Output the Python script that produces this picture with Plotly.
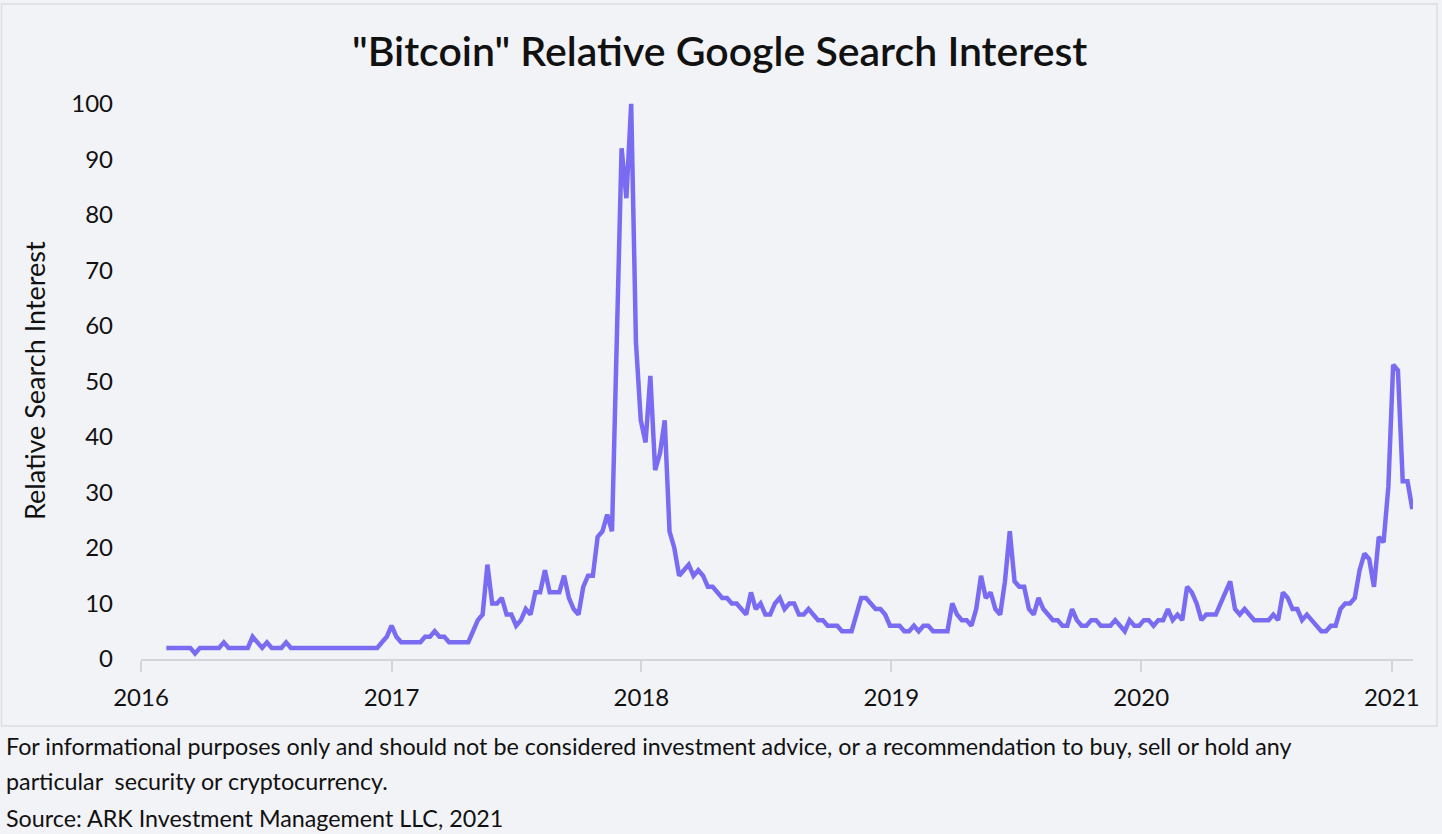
import pandas as pd
import plotly.graph_objects as go

# Weekly "bitcoin" search interest
week_start = "2016-02-07"
interest = [
    2, 2, 2, 2, 2, 2, 1, 2, 2, 2, 2, 2, 3, 2, 2, 2, 2, 2, 4, 3,
    2, 3, 2, 2, 2, 3, 2, 2, 2, 2, 2, 2, 2, 2, 2, 2, 2, 2, 2, 2,
    2, 2, 2, 2, 2, 3, 4, 6, 4, 3, 3, 3, 3, 3, 4, 4, 5, 4, 4, 3,
    3, 3, 3, 3, 5, 7, 8, 17, 10, 10, 11, 8, 8, 6, 7, 9, 8, 12, 12, 16,
    12, 12, 12, 15, 11, 9, 8, 13, 15, 15, 22, 23, 26, 23, 56, 92, 83, 100, 57, 43,
    39, 51, 34, 37, 43, 23, 20, 15, 16, 17, 15, 16, 15, 13, 13, 12, 11, 11, 10, 10,
    9, 8, 12, 9, 10, 8, 8, 10, 11, 9, 10, 10, 8, 8, 9, 8, 7, 7, 6, 6,
    6, 5, 5, 5, 8, 11, 11, 10, 9, 9, 8, 6, 6, 6, 5, 5, 6, 5, 6, 6,
    5, 5, 5, 5, 10, 8, 7, 7, 6, 9, 15, 11, 12, 9, 8, 14, 23, 14, 13, 13,
    9, 8, 11, 9, 8, 7, 7, 6, 6, 9, 7, 6, 6, 7, 7, 6, 6, 6, 7, 6,
    5, 7, 6, 6, 7, 7, 6, 7, 7, 9, 7, 8, 7, 13, 12, 10, 7, 8, 8, 8,
    10, 12, 14, 9, 8, 9, 8, 7, 7, 7, 7, 8, 7, 12, 11, 9, 9, 7, 8, 7,
    6, 5, 5, 6, 6, 9, 10, 10, 11, 16, 19, 18, 13, 22, 21, 31, 53, 52, 32, 32,
    27,
]
weeks = pd.date_range(week_start, periods=len(interest), freq="W-SUN")

year_ticks = ["2016-01-01", "2017-01-01", "2018-01-01", "2019-01-01", "2020-01-01", "2021-01-01"]
year_labels = ["2016", "2017", "2018", "2019", "2020", "2021"]
y_ticks = [0, 10, 20, 30, 40, 50, 60, 70, 80, 90, 100]

title = '"Bitcoin" Relative Google Search Interest'
y_title = "Relative Search Interest"
notes = [
    "For informational purposes only and should not be considered investment advice, or a recommendation to buy, sell or hold any",
    "particular  security or cryptocurrency.",
    "Source: ARK Investment Management LLC, 2021",
]

FONT = "Lato"
BG = "#f2f3f7"
W, H = 1442, 834
L, R, T, B = 141, 29, 101, 175
PW, PH = W - L - R, H - T - B
Y0 = H - B  # pixel row of value 0


def px(x):
    return (x - L) / PW


def py(y):
    return (Y0 - y) / PH


fig = go.Figure()
fig.add_trace(go.Scatter(
    x=weeks, y=interest,
    mode="lines",
    line=dict(color="#7a6cf2", width=4.5),
    hoverinfo="skip",
))

fig.update_layout(
    width=W, height=H,
    margin=dict(l=L, r=R, t=T, b=B),
    paper_bgcolor=BG,
    plot_bgcolor=BG,
    showlegend=False,
    font=dict(family=FONT, color="#111111"),
)
fig.update_xaxes(
    range=["2016-01-01", "2021-02-01"],
    tickvals=year_ticks, ticktext=year_labels,
    showgrid=False, zeroline=False,
    showline=True, linecolor="#d3d5da", linewidth=1.5,
    ticks="outside", ticklen=11, tickcolor="#d3d5da", tickwidth=1.5,
    ticklabelstandoff=5,
    tickfont=dict(size=24, family=FONT, color="#111111"),
)
fig.update_yaxes(
    range=[0, 100.5],
    tickvals=y_ticks,
    showgrid=False, zeroline=False, showline=False,
    ticks="", ticklabelstandoff=27,
    tickfont=dict(size=24, family=FONT, color="#111111"),
)

# panel border
fig.add_shape(type="rect", xref="paper", yref="paper",
              x0=px(1.5), x1=px(1437), y0=py(726), y1=py(4),
              line=dict(color="#dcdde2", width=1.5), layer="below")

fig.add_annotation(text=title, xref="paper", yref="paper",
                   x=px(719), y=py(50), showarrow=False,
                   font=dict(size=41, family=FONT, color="#111111", weight=600),
                   xanchor="center", yanchor="middle")
fig.add_annotation(text=y_title, xref="paper", yref="paper",
                   x=px(34), y=py(381), showarrow=False, textangle=-90,
                   font=dict(size=27, family=FONT, color="#111111"),
                   xanchor="center", yanchor="middle")
for note, yc in zip(notes, [746, 781, 818]):
    fig.add_annotation(text=note, xref="paper", yref="paper",
                       x=px(4), y=py(yc), showarrow=False,
                       font=dict(size=23.3, family=FONT, color="#111111"),
                       xanchor="left", yanchor="middle")

fig.write_html(
    "out.html",
    config={"displayModeBar": False},
    post_script="document.body.style.margin='0';"
                "document.body.style.overflow='hidden';"
                "document.body.style.background='" + BG + "';",
)
